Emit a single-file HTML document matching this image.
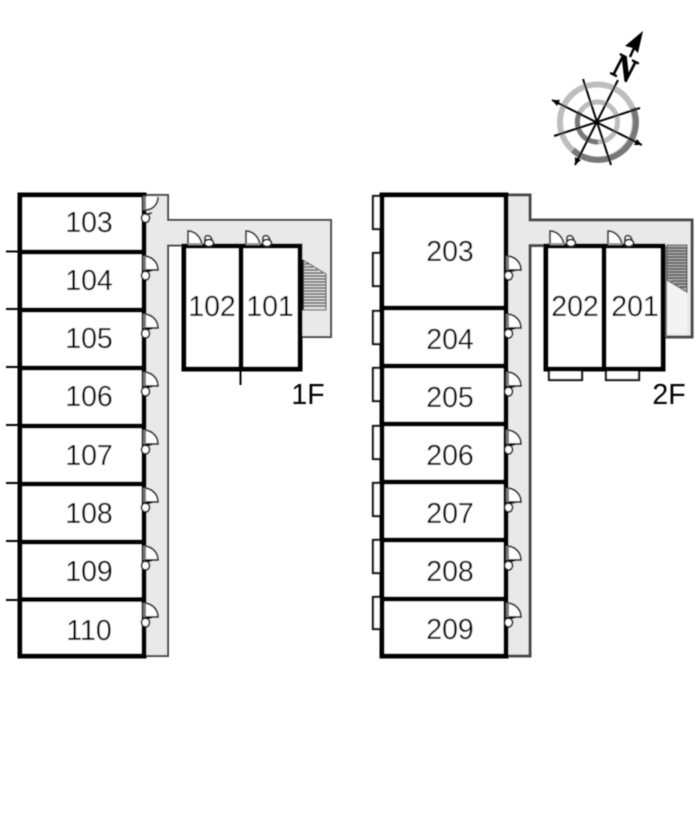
<!DOCTYPE html>
<html>
<head>
<meta charset="utf-8">
<style>
html,body{margin:0;padding:0;background:#fff;width:700px;height:823px;overflow:hidden}
svg{display:block}
text{font-family:"Liberation Sans",sans-serif;font-size:28.5px;fill:#000;text-anchor:middle}
</style>
</head>
<body>
<svg width="700" height="823" viewBox="0 0 700 823" xmlns="http://www.w3.org/2000/svg">
<defs>
<filter id="b" filterUnits="userSpaceOnUse" x="0" y="0" width="700" height="823"><feGaussianBlur stdDeviation="0.4"/></filter>
<g id="d">
<path d="M0 0C8 1 13 7 13 14H0Z" fill="#fff" stroke="#111" stroke-width="1.700"/>
<rect x="-2" y="0" width="3" height="14" fill="#777"/>
<ellipse cx="0.5" cy="19.5" rx="4" ry="4.5" fill="#fff" stroke="#111" stroke-width="1.700"/>
<path d="M0 15.5L7 14.5" stroke="#111" stroke-width="1.700" fill="none"/>
</g>
<g id="t">
<path d="M0 14V0C7 0 13 6 14 14Z" fill="#fff" stroke="#222" stroke-width="1.700"/>
<path d="M0 13H14" stroke="#999" stroke-width="2"/>
<path d="M17 14V7C17 3.500 24 3.500 24 10V14" fill="#fff" stroke="#222" stroke-width="1.700"/>
<ellipse cx="21" cy="12" rx="4.500" ry="3.500" fill="#fff" stroke="#222" stroke-width="1.700"/>
</g>
</defs>
<g filter="url(#b)">

<!-- 1F corridor -->
<path d="M145 195H168V220H331V337H300V246H168V656H145Z" fill="#e9e9e9"/>
<path d="M145 195H168V220H331V337H300M183 245.500H168V656H145" fill="none" stroke="#444" stroke-width="2"/>
<rect x="184" y="246" width="116" height="123" fill="#fff"/>

<!-- 1F stairs -->
<path d="M303 260L326 274V310H303Z" fill="#ddd" stroke="#333" stroke-width="1"/>
<path d="M304 264H309M304 267H313M304 270H318M304 273H323M304 276H326M304 279H326M304 282H326M304 285H326M304 288H326M304 291H326M304 294H326M304 297H326M304 300H326M304 303H326M304 306H326" stroke="#444" stroke-width="1.200"/>
<rect x="302" y="260" width="2" height="50" fill="#222"/>

<!-- Left block -->
<rect x="20" y="195" width="124" height="461" fill="#fff" stroke="#000" stroke-width="5"/>
<path d="M20 252H144M20 310H144M20 368H144M20 426H144M20 484H144M20 542H144M20 599.500H144" stroke="#000" stroke-width="5"/>
<path d="M6 251.500H20M6 309H20M6 367H20M6 425H20M6 483H20M6 541H20M6 600H20" stroke="#000" stroke-width="2"/>
<path d="M158 197C158 205 152 210 145 210V197" fill="#fff" stroke="#111" stroke-width="1.700"/>
<rect x="143" y="196" width="3" height="14" fill="#777"/>
<ellipse cx="145.500" cy="218" rx="4" ry="4.500" fill="#fff" stroke="#111" stroke-width="1.700"/>
<path d="M145 214.500L152 213" stroke="#111" stroke-width="1.700"/>
<use href="#d" x="145" y="256"/>
<use href="#d" x="145" y="314"/>
<use href="#d" x="145" y="372"/>
<use href="#d" x="145" y="430"/>
<use href="#d" x="145" y="488"/>
<use href="#d" x="145" y="546"/>
<use href="#d" x="145" y="603"/>

<!-- 1F top block -->
<rect x="184" y="246" width="116" height="123" fill="#fff" stroke="#000" stroke-width="5"/>
<path d="M241 246V369" stroke="#000" stroke-width="5"/>
<path d="M240.500 369V385" stroke="#000" stroke-width="2"/>
<use href="#t" x="188" y="231"/>
<use href="#t" x="246" y="231"/>

<text x="89" y="232">103</text>
<text x="89" y="290">104</text>
<text x="89" y="348">105</text>
<text x="89" y="406">106</text>
<text x="89" y="465">107</text>
<text x="89" y="523">108</text>
<text x="89" y="581">109</text>
<text x="89" y="640">110</text>
<text x="212" y="316">102</text>
<text x="270" y="316">101</text>
<text x="308" y="404">1F</text>

<!-- 2F corridor -->
<path d="M507 195H530V220H692V337H663V246H530V656H507Z" fill="#e9e9e9"/>
<path d="M507 195H530V220H692V337H663M546 245.500H530V656H507" fill="none" stroke="#4a4a4a" stroke-width="3"/>
<rect x="546" y="246" width="117" height="123" fill="#fff"/>

<!-- 2F stairs -->
<path d="M667 245H687V292L667 280Z" fill="#aaa" stroke="#333" stroke-width="1"/>
<path d="M667 248H687M667 251H687M667 254H687M667 257H687M667 260H687M667 263H687M667 266H687M667 269H687M667 272H687M667 275H687M667 278H687M671 281H687M675 284H687M680 287H687" stroke="#444" stroke-width="1.200"/>
<path d="M667 282L687 294V334H667Z" fill="#f3f3f3"/>
<rect x="664" y="246" width="3" height="91" fill="#777"/>

<!-- 2F left balconies -->
<g fill="#fff" stroke="#111" stroke-width="2.200">
<rect x="373" y="196" width="8" height="33"/>
<rect x="373" y="253" width="8" height="33"/>
<rect x="373" y="311" width="8" height="33"/>
<rect x="373" y="368" width="8" height="33"/>
<rect x="373" y="426" width="8" height="33"/>
<rect x="373" y="483" width="8" height="33"/>
<rect x="373" y="540" width="8" height="33"/>
<rect x="373" y="597" width="8" height="32"/>
<rect x="549" y="370" width="33" height="10"/>
<rect x="606" y="370" width="33" height="10"/>
</g>

<!-- Right block -->
<rect x="382" y="195" width="124" height="461" fill="#fff" stroke="#000" stroke-width="5"/>
<path d="M382 308H506M382 366H506M382 424H506M382 482H506M382 540H506M382 599H506" stroke="#000" stroke-width="5"/>
<use href="#d" x="508" y="256"/>
<use href="#d" x="508" y="314"/>
<use href="#d" x="508" y="372"/>
<use href="#d" x="508" y="430"/>
<use href="#d" x="508" y="488"/>
<use href="#d" x="508" y="546"/>
<use href="#d" x="508" y="603"/>

<!-- 2F top block -->
<rect x="546" y="246" width="117" height="123" fill="#fff" stroke="#000" stroke-width="5"/>
<path d="M604 246V369" stroke="#000" stroke-width="5"/>
<use href="#t" x="550" y="231"/>
<use href="#t" x="608" y="231"/>

<text x="450" y="261">203</text>
<text x="450" y="349">204</text>
<text x="450" y="407">205</text>
<text x="450" y="465">206</text>
<text x="450" y="523">207</text>
<text x="450" y="581">208</text>
<text x="450" y="639">209</text>
<text x="575" y="316">202</text>
<text x="635" y="316">201</text>
<text x="669" y="404">2F</text>

<!-- Compass -->
<g fill="none">
<circle cx="597.500" cy="122" r="37.500" stroke="#bdbdbd" stroke-width="6"/>
<path d="M633 108A37.500 37.500 0 0 1 573 150" stroke="#787878" stroke-width="6"/>
<circle cx="597.500" cy="122" r="20" stroke="#bdbdbd" stroke-width="5"/>
<path d="M580 112A20 20 0 0 0 598 142" stroke="#787878" stroke-width="5"/>
<g stroke="#000" stroke-width="2">
<path d="M575 165L618 80"/>
<path d="M552 100L642 145"/>
<path d="M583 79L611 165"/>
<path d="M554 136L640 108"/>
</g>
</g>
<g fill="#000">
<path d="M552 100L560 100L557 106Z"/>
<path d="M642 145L634 145L637 139Z"/>
<path d="M575 165L575 157L581 160Z"/>
<path d="M643 31L638 53L633 48L625 46Z"/>
</g>
<path d="M634 48L630 57" stroke="#000" stroke-width="2.500"/>
<text transform="translate(625 67) rotate(27) scale(1 1.150)" x="0" y="11" style="font-family:'Liberation Serif',serif;font-weight:bold;font-size:30px;fill:#000;stroke:#000;stroke-width:0.8">N</text>
</g>
</svg>
</body>
</html>
